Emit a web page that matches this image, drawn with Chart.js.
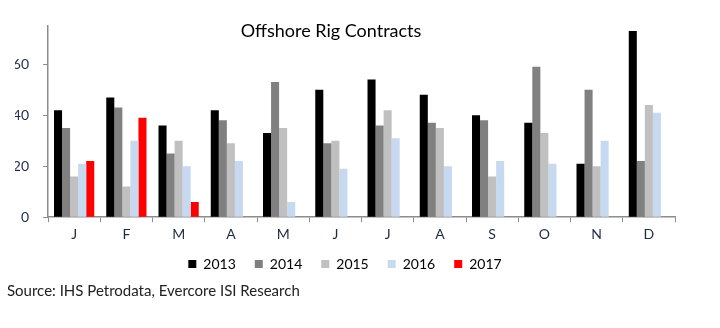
<!DOCTYPE html>
<html>
<head>
<meta charset="utf-8">
<script src="https://cdn.jsdelivr.net/npm/chart.js@4.4.0/dist/chart.umd.min.js"></script>
<style>
    body{ margin:0; background:#fff; }
    #wrap{ position:relative; width:720px; height:328px; }
    #chart_title{ position:absolute; left:0; top:19px; width:662px; text-align:center; font-family:Lato, sans-serif; font-size:18px; color:#000; }
    #chart_source{ position:absolute; left:7px; top:281px; font-family:Lato, sans-serif; font-size:15px; color:#222; }
</style>
</head>
<body>
<div id="wrap">
    <canvas id="rig_graphic" width="720" height="328"></canvas>
    <div id="chart_title">Offshore Rig Contracts</div>
    <div id="chart_source">Source: IHS Petrodata, Evercore ISI Research</div>
</div>
<script>
/*
    data
        months
        yearly series
*/
var months = ['J','F','M','A','M','J','J','A','S','O','N','D'];
var y2013 = [42, 47, 36, 42, 33, 50, 54, 48, 40, 37, 21, 73];
var y2014 = [35, 43, 25, 38, 53, 29, 36, 37, 38, 59, 50, 22];
var y2015 = [16, 12, 30, 29, 35, 30, 42, 35, 16, 33, 20, 44];
var y2016 = [21, 30, 20, 22, 6, 19, 31, 20, 22, 21, 30, 41];
var y2017 = [22, 39, 6, null, null, null, null, null, null, null, null, null];
var y_ticks = [0, 20, 40, 60];

var series = [
    {name:'2013', data:y2013, color:'#000000'},
    {name:'2014', data:y2014, color:'#808080'},
    {name:'2015', data:y2015, color:'#c0c0c0'},
    {name:'2016', data:y2016, color:'#c6d9f1'},
    {name:'2017', data:y2017, color:'#ff0000'}
];

var label_font = {family:'Lato', size:14};
var axis_color = '#8c8c8c';

var datasets = [];
for(i in series){
    datasets.push({
        label: series[i].name,
        data: series[i].data,
        backgroundColor: series[i].color,
        borderWidth: 0,
        categoryPercentage: 0.77,
        barPercentage: 1.0
    });
}

// pull the legend a bit closer to the axis labels
var legend_shift = {
    id: 'legend_shift',
    afterLayout: function(chart){
        chart.legend.top -= 9;
        chart.legend.bottom -= 9;
    }
};

var configuration = {
    type: 'bar',
    data: {labels: months, datasets: datasets},
    options: {
        responsive: false,
        animation: false,
        layout: {padding: {left: 15, right: 45, top: 26, bottom: 38}},
        plugins: {
            title: {display: false},
            tooltip: {enabled: false},
            legend: {
                position: 'bottom',
                labels: {
                    font: label_font,
                    color: '#000',
                    boxWidth: 8,
                    boxHeight: 8,
                    padding: 19
                }
            }
        },
        scales: {
            x: {
                grid: {drawOnChartArea: false, color: axis_color, tickLength: 5, offset: true},
                border: {color: axis_color, width: 1.5},
                ticks: {font: label_font, color: '#1f2a44', padding: 4}
            },
            y: {
                min: 0,
                max: 75,
                afterFit: function(scale){ scale.width = 33; },
                afterBuildTicks: function(scale){
                    scale.ticks = y_ticks.map(function(v){ return {value: v}; });
                },
                grid: {drawOnChartArea: false, color: axis_color, tickLength: 5},
                border: {color: axis_color, width: 1.5},
                ticks: {font: label_font, color: '#1f2a44', padding: 14}
            }
        }
    },
    plugins: [legend_shift]
};

new Chart(document.getElementById('rig_graphic'), configuration);
</script>
</body>
</html>
